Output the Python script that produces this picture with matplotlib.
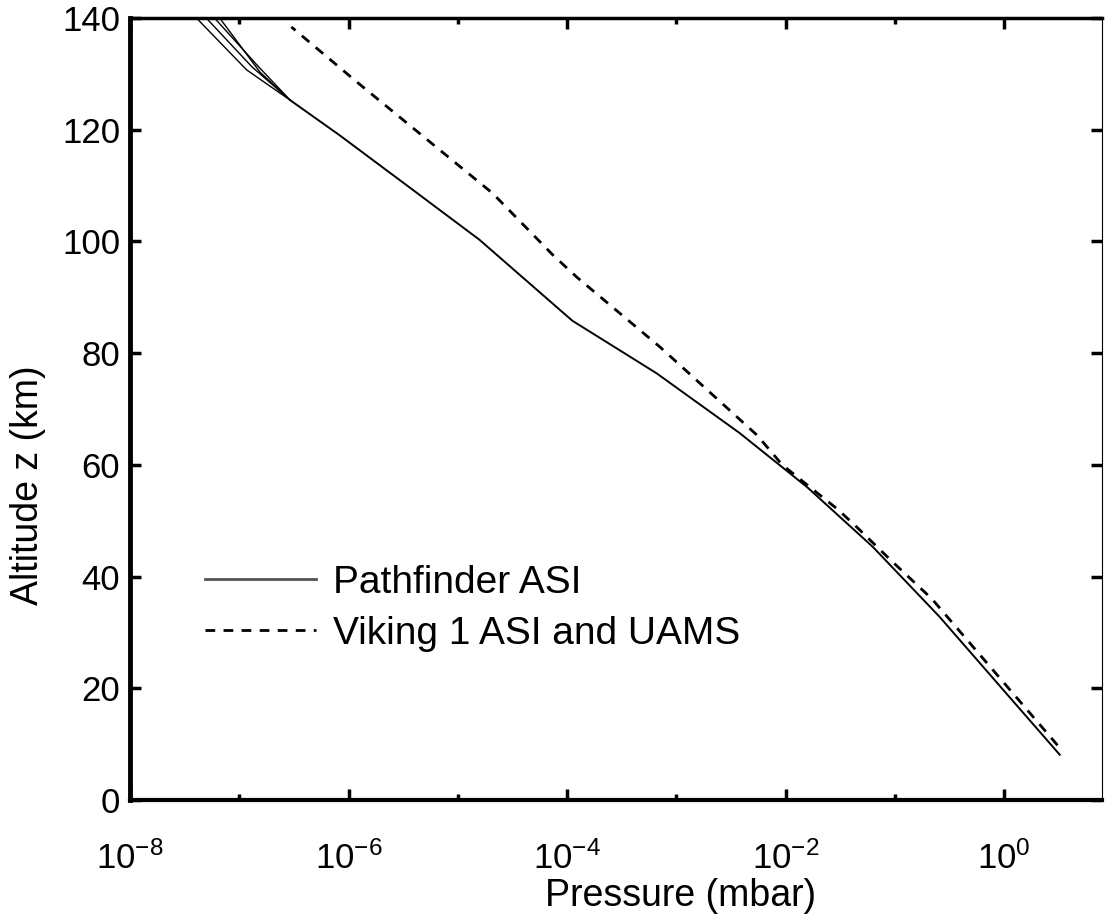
import matplotlib
matplotlib.use("Agg")
import matplotlib.pyplot as plt
from matplotlib.lines import Line2D
from matplotlib.ticker import FixedLocator, FixedFormatter

plt.rcParams['font.family'] = ['Liberation Sans', 'DejaVu Sans']
plt.rcParams['mathtext.fontset'] = 'custom'
plt.rcParams['mathtext.rm'] = 'Liberation Sans'
plt.rcParams['mathtext.it'] = 'Liberation Sans'
plt.rcParams['mathtext.default'] = 'regular'
plt.rcParams['lines.scale_dashes'] = False

# ---- data (altitude km, pressure mbar) ----
pf_alt = [8.1, 20.0, 32.8, 45.3, 56.0, 65.7, 76.4, 85.8, 100.3, 109.2, 119.0, 125.3]
pf_pres = [3.24, 0.955, 0.257, 0.0631, 0.0158, 0.0038, 6.6e-4, 1.12e-4,
           1.58e-5, 3.9e-6, 8.3e-7, 2.92e-7]

# upper branches of the Pathfinder profile (from 125.3 km to the top)
pf_branch_alt = [
    [125.3, 130.7, 139.9],
    [125.3, 131.3, 139.9],
    [125.3, 131.6, 139.9],
    [125.3, 130.3, 139.9],
]
pf_branch_pres = [
    [2.92e-7, 1.17e-7, 4.10e-8],
    [2.92e-7, 1.30e-7, 5.04e-8],
    [2.92e-7, 1.45e-7, 6.00e-8],
    [2.92e-7, 1.55e-7, 6.67e-8],
]

vk_alt = [9.8, 36.0, 43.0, 48.9, 52.0, 60.0, 65.3, 81.1, 93.6, 97.6, 108.6, 128.5, 138.4]
vk_pres = [3.09, 0.219, 0.0912, 0.0447, 0.0302, 0.00933, 0.0055, 7.1e-4,
           1.23e-4, 7.4e-5, 2.09e-5, 1.2e-6, 3.0e-7]

x_major = [1e-8, 1e-6, 1e-4, 1e-2, 1e0]
x_major_labels = ['$10^{-8}$', '$10^{-6}$', '$10^{-4}$', '$10^{-2}$', '$10^{0}$']
x_minor = [1e-7, 1e-5, 1e-3, 1e-1]
y_ticks = [0, 20, 40, 60, 80, 100, 120, 140]

labels = ['Pathfinder ASI', 'Viking 1 ASI and UAMS']

# ---- figure ----
W, H = 1106, 924
fig = plt.figure(figsize=(W / 100, H / 100), dpi=100)
ax = fig.add_axes([130 / W, (H - 800) / H, (1102 - 130) / W, (800 - 18) / H])

ax.plot(pf_pres, pf_alt, color='black', lw=1.4)
for a, p in zip(pf_branch_alt, pf_branch_pres):
    ax.plot(p, a, color='black', lw=1.0)
ax.plot(vk_pres, vk_alt, color='black', lw=2.0, dashes=(7, 6))

ax.set_xscale('log')
ax.set_xlim(1e-8, 10 ** 0.897)
ax.set_ylim(0, 140)

ax.xaxis.set_major_locator(FixedLocator(x_major))
ax.xaxis.set_major_formatter(FixedFormatter(x_major_labels))
ax.xaxis.set_minor_locator(FixedLocator(x_minor))
ax.xaxis.set_minor_formatter(FixedFormatter([''] * len(x_minor)))
ax.set_yticks(y_ticks)
ax.set_yticklabels([str(v) for v in y_ticks])

ax.tick_params(axis='both', which='major', direction='in', length=8, width=2.5,
               top=True, right=True, labelsize=25)
ax.tick_params(axis='both', which='minor', direction='in', length=4, width=2.5,
               top=True, right=True)
ax.tick_params(axis='x', which='major', pad=30)
ax.tick_params(axis='y', which='major', pad=7)

for side, lw in [('left', 3.5), ('bottom', 3.0), ('top', 2.5), ('right', 0.8)]:
    ax.spines[side].set_linewidth(lw)
    ax.spines[side].set_color('black')

ax.set_xlabel('Pressure (mbar)', fontsize=27)
ax.set_ylabel('Altitude z (km)', fontsize=27)
ax.xaxis.set_label_coords((681 - 130) / 972, (800 - 878) / 782)
ax.yaxis.set_label_coords((46 - 130) / 972, (800 - 485) / 782)

handles = [Line2D([], [], color='#555555', lw=2.0),
           Line2D([], [], color='black', lw=2.0, dashes=(7, 6))]
ax.legend(handles, labels, loc='upper left',
          bbox_to_anchor=((205 - 130) / 972, (800 - 565) / 782),
          frameon=False, fontsize=28, handlelength=2.85, handletextpad=0.45,
          labelspacing=0.38, borderpad=0, borderaxespad=0)

fig.savefig('out.png', dpi=100)
